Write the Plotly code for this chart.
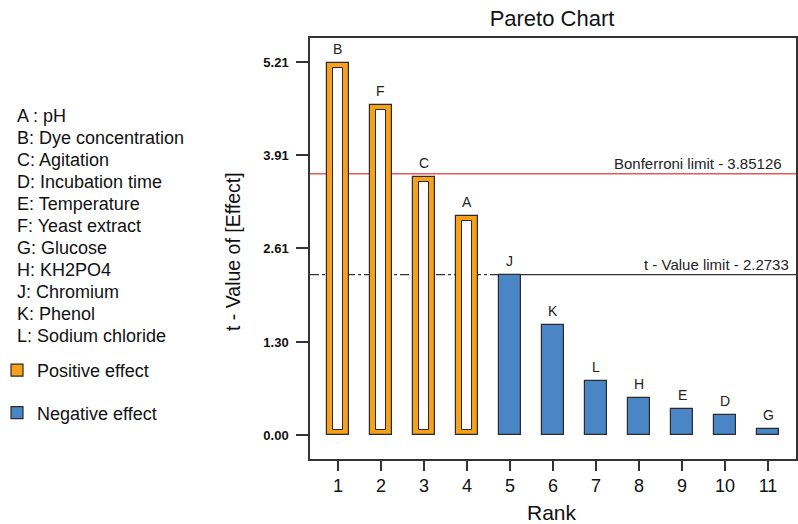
import plotly.graph_objects as go

# ---- data ----
ranks = [1, 2, 3, 4, 5, 6, 7, 8, 9, 10, 11]
factors = ["B", "F", "C", "A", "J", "K", "L", "H", "E", "D", "G"]
t_values = [5.20, 4.61, 3.60, 3.06, 2.23, 1.53, 0.76, 0.52, 0.37, 0.28, 0.09]
effect_sign = ["+", "+", "+", "+", "-", "-", "-", "-", "-", "-", "-"]
ytick_vals = [0.00, 1.30, 2.61, 3.91, 5.21]
ytick_text = ["0.00", "1.30", "2.61", "3.91", "5.21"]
factor_names = ["A : pH", "B: Dye concentration", "C: Agitation", "D: Incubation time",
                "E: Temperature", "F: Yeast extract", "G: Glucose", "H: KH2PO4",
                "J: Chromium", "K: Phenol", "L: Sodium chloride"]
bonferroni_line = 3.65
bonferroni_text = "Bonferroni limit - 3.85126"
tlimit_line = 2.24
tlimit_text = "t - Value limit - 2.2733"

ORANGE = "#F7A11B"
BLUE = "#4A86C6"
EDGE = "#2b2b2b"
FONT = "Liberation Sans, Arial, sans-serif"

W, H = 798, 524
ML, MR, MT, MB = 310, 2, 38, 65
x_range = [0.35, 11.65]
y_range = [-0.335, 5.545]

pos_x = [r for r, s in zip(ranks, effect_sign) if s == "+"]
pos_y = [v for v, s in zip(t_values, effect_sign) if s == "+"]
neg_x = [r for r, s in zip(ranks, effect_sign) if s == "-"]
neg_y = [v for v, s in zip(t_values, effect_sign) if s == "-"]

pad = 0.07  # orange rim thickness in data units (vertical)

fig = go.Figure()
fig.add_trace(go.Bar(x=pos_x, y=pos_y, width=0.5, name="Positive effect",
                     marker=dict(color=ORANGE, line=dict(color=EDGE, width=1.2)),
                     legendgroup="p"))
fig.add_trace(go.Bar(x=pos_x, y=[v - 2 * pad for v in pos_y], base=[pad] * len(pos_y),
                     width=0.23, showlegend=False, hoverinfo="skip",
                     marker=dict(color="white", line=dict(color=EDGE, width=1))))
fig.add_trace(go.Bar(x=neg_x, y=neg_y, width=0.5, name="Negative effect",
                     marker=dict(color=BLUE, line=dict(color=EDGE, width=1.2)),
                     legendgroup="n"))

# reference lines (below bars)
fig.add_shape(type="line", xref="x", yref="y", x0=x_range[0], x1=x_range[1],
              y0=bonferroni_line, y1=bonferroni_line, layer="below",
              line=dict(color="#E8585A", width=1.5))
j_pos = ranks[factors.index("J")]
fig.add_shape(type="line", xref="x", yref="y", x0=x_range[0], x1=j_pos,
              y0=tlimit_line, y1=tlimit_line, layer="below",
              line=dict(color="#333333", width=1.3, dash="dashdot"))
fig.add_shape(type="line", xref="x", yref="y", x0=j_pos, x1=x_range[1],
              y0=tlimit_line, y1=tlimit_line, layer="below",
              line=dict(color="#333333", width=1.3))

annotations = []
for r, v, f in zip(ranks, t_values, factors):
    annotations.append(dict(x=r, y=v, xref="x", yref="y", text=f, showarrow=False,
                            yanchor="middle", yshift=14,
                            font=dict(family=FONT, size=14, color="#222")))

annotations.append(dict(x=1, y=bonferroni_line, xref="paper", yref="y", text=bonferroni_text,
                        showarrow=False, xanchor="right", yanchor="bottom", xshift=-12, yshift=0,
                        font=dict(family=FONT, size=15, color="#222")))
annotations.append(dict(x=1, y=tlimit_line, xref="paper", yref="y", text=tlimit_text,
                        showarrow=False, xanchor="right", yanchor="bottom", xshift=-5, yshift=0,
                        font=dict(family=FONT, size=15, color="#222")))

# factor list on the left
plot_w = W - ML - MR
plot_h = H - MT - MB
for i, name in enumerate(factor_names):
    py = 116 + i * 22
    annotations.append(dict(x=(15 - ML) / plot_w, y=(H - MB - py) / plot_h, xref="paper", yref="paper",
                            text=name, showarrow=False, xanchor="left", yanchor="middle",
                            font=dict(family=FONT, size=18, color="#111")))

# axis titles
annotations.append(dict(x=(233 - ML) / plot_w, y=(H - MB - 252) / plot_h, xref="paper", yref="paper",
                        text="t - Value of [Effect]", textangle=-90, showarrow=False,
                        xanchor="center", yanchor="middle",
                        font=dict(family=FONT, size=19.5, color="#111")))
annotations.append(dict(x=(552 - ML) / plot_w, y=(H - MB - 512) / plot_h, xref="paper", yref="paper",
                        text="Rank", showarrow=False, xanchor="center", yanchor="middle",
                        font=dict(family=FONT, size=21, color="#111")))

fig.update_layout(
    width=W, height=H,
    margin=dict(l=ML, r=MR, t=MT, b=MB, autoexpand=False),
    paper_bgcolor="white", plot_bgcolor="white",
    barmode="overlay", bargap=0,
    title=dict(text="Pareto Chart", x=(552) / W, xanchor="center", y=1 - 18 / H, yanchor="middle",
               font=dict(family=FONT, size=22, color="#111")),
    showlegend=True,
    legend=dict(x=(-3 - ML) / plot_w, xanchor="left", y=(H - MB - 352) / plot_h, yanchor="top",
                font=dict(family=FONT, size=18, color="#111"), traceorder="grouped",
                tracegroupgap=16, bgcolor="rgba(0,0,0,0)"),
    annotations=annotations,
    xaxis=dict(range=x_range, tickvals=ranks, ticktext=[str(r) for r in ranks],
               showline=True, linecolor="#333", linewidth=1.5, mirror=True,
               ticks="outside", ticklen=10, tickcolor="#333", tickwidth=1.5,
               showgrid=False, zeroline=False,
               tickfont=dict(family=FONT, size=18, color="#111")),
    yaxis=dict(range=y_range, tickvals=ytick_vals, ticktext=ytick_text,
               showline=True, linecolor="#333", linewidth=1.5, mirror=True,
               ticks="outside", ticklen=12, tickcolor="#333", tickwidth=1.5,
               ticklabelstandoff=5,
               showgrid=False, zeroline=False,
               tickfont=dict(family=FONT, size=13, color="#111", weight="bold")),
)

fig.write_html("out.html", config={"displayModeBar": False},
               post_script="document.body.style.margin='0px';")
